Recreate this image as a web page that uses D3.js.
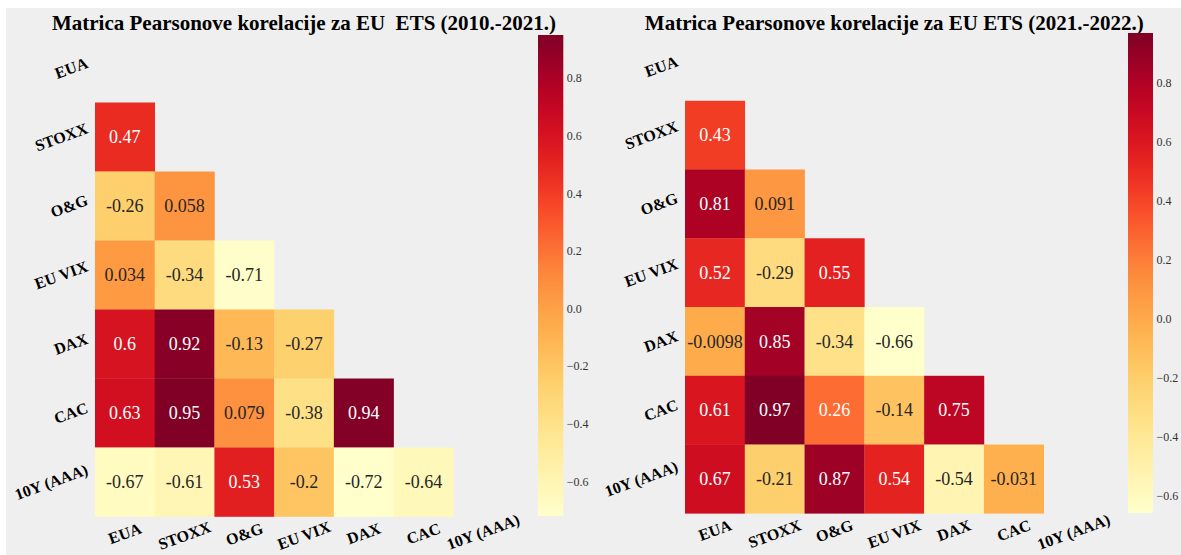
<!DOCTYPE html>
<html>
<head>
<meta charset="utf-8">
<script src="https://cdn.jsdelivr.net/npm/d3@7"></script>
<style>
  body { margin: 0; background: #fff; }
  svg { display: block; }
</style>
</head>
<body>
<svg id="chart" width="1181" height="555"></svg>
<script>
// variable names, same order on both axes
var labels = ["EUA", "STOXX", "O&G", "EU VIX", "DAX", "CAC", "10Y (AAA)"];

// lower triangle of the correlation matrix, row i holds columns 0..i-1
var corr2010 = [
    [],
    [0.47],
    [-0.26, 0.058],
    [0.034, -0.34, -0.71],
    [0.6, 0.92, -0.13, -0.27],
    [0.63, 0.95, 0.079, -0.38, 0.94],
    [-0.67, -0.61, 0.53, -0.2, -0.72, -0.64]
];

var corr2021 = [
    [],
    [0.43],
    [0.81, 0.091],
    [0.52, -0.29, 0.55],
    [-0.0098, 0.85, -0.34, -0.66],
    [0.61, 0.97, 0.26, -0.14, 0.75],
    [0.67, -0.21, 0.87, 0.54, -0.54, -0.031]
];

var cbTicks = [-0.6, -0.4, -0.2, 0.0, 0.2, 0.4, 0.6, 0.8];

var titles = [
    "Matrica Pearsonove korelacije za EU\u00a0\u00a0ETS (2010.-2021.)",
    "Matrica Pearsonove korelacije za EU ETS (2021.-2022.)"
];

var svg = d3.select("#chart");
var serif = "'Liberation Serif', 'Times New Roman', serif";
var angle = 20 * Math.PI / 180;

// panel background
svg.append("rect")
    .attr("x", 6).attr("y", 8)
    .attr("width", 1181 - 6).attr("height", 555 - 8)
    .attr("fill", "#efefef");

var defs = svg.append("defs");

var panels = [
    {data: corr2010, title: titles[0], x0: 95, x1: 513, y0: 33.5, y1: 516.5,
     cbX: 538, cbW: 25.3, cbY0: 35, cbY1: 516},
    {data: corr2021, title: titles[1], x0: 685, x1: 1103.5, y0: 32, y1: 513.3,
     cbX: 1128, cbW: 25, cbY0: 33, cbY1: 513}
];

function luminance(c) {
    var rgb = d3.rgb(c);
    var lin = [rgb.r, rgb.g, rgb.b].map(function (v) {
        v = v / 255;
        return v <= 0.03928 ? v / 12.92 : Math.pow((v + 0.055) / 1.055, 2.4);
    });
    return 0.2126 * lin[0] + 0.7152 * lin[1] + 0.0722 * lin[2];
}

panels.forEach(function (p, k) {
    var cells = [];
    p.data.forEach(function (row, i) {
        row.forEach(function (v, j) {
            cells.push({row: labels[i], col: labels[j], value: v});
        });
    });

    var vmin = d3.min(cells, function (d) { return d.value; }),
        vmax = d3.max(cells, function (d) { return d.value; });

    var x = d3.scaleBand().domain(labels).range([p.x0, p.x1]);
    var y = d3.scaleBand().domain(labels).range([p.y0, p.y1]);
    var color = d3.scaleSequential(d3.interpolateYlOrRd).domain([vmin, vmax]);

    var g = svg.append("g");

    g.selectAll("rect.cell")
        .data(cells)
        .enter().append("rect")
        .attr("class", "cell")
        .attr("x", function (d) { return x(d.col); })
        .attr("y", function (d) { return y(d.row); })
        .attr("width", x.bandwidth() + 0.3)
        .attr("height", y.bandwidth() + 0.3)
        .attr("fill", function (d) { return color(d.value); });

    g.selectAll("text.annot")
        .data(cells)
        .enter().append("text")
        .attr("class", "annot")
        .attr("x", function (d) { return x(d.col) + x.bandwidth() / 2; })
        .attr("y", function (d) { return y(d.row) + y.bandwidth() / 2; })
        .attr("dy", "0.35em")
        .attr("text-anchor", "middle")
        .style("font-family", serif)
        .style("font-size", "18px")
        .attr("fill", function (d) {
            return luminance(color(d.value)) > 0.408 ? "#262626" : "#ffffff";
        })
        .text(function (d) { return String(d.value); });

    // title
    g.append("text")
        .attr("x", (p.x0 + p.x1) / 2)
        .attr("y", 30)
        .attr("text-anchor", "middle")
        .style("font-family", serif)
        .style("font-weight", "bold")
        .style("font-size", "21px")
        .attr("fill", "#000")
        .text(p.title);

    var fs = 16, capH = 0.68 * fs;

    // y tick labels, rotated, right edge against the heatmap
    g.selectAll("text.ylab")
        .data(labels)
        .enter().append("text")
        .attr("class", "ylab")
        .attr("text-anchor", "middle")
        .attr("dy", "0.34em")
        .style("font-family", serif)
        .style("font-weight", "bold")
        .style("font-size", fs + "px")
        .text(function (d) { return d; })
        .attr("transform", function (d) {
            var w = this.getComputedTextLength();
            var bw = w * Math.cos(angle) + capH * Math.sin(angle);
            var cx = p.x0 - 6 - bw / 2;
            var cy = y(d) + y.bandwidth() / 2;
            return "translate(" + cx + "," + cy + ") rotate(-20)";
        });

    // x tick labels, rotated, top edge below the heatmap
    g.selectAll("text.xlab")
        .data(labels)
        .enter().append("text")
        .attr("class", "xlab")
        .attr("text-anchor", "middle")
        .attr("dy", "0.34em")
        .style("font-family", serif)
        .style("font-weight", "bold")
        .style("font-size", fs + "px")
        .text(function (d) { return d; })
        .attr("transform", function (d) {
            var w = this.getComputedTextLength();
            var bh = w * Math.sin(angle) + capH * Math.cos(angle);
            var cx = x(d) + x.bandwidth() / 2;
            var cy = Math.min(p.y1 + 6 + bh / 2, 555 - bh / 2 - 5);
            return "translate(" + cx + "," + cy + ") rotate(-20)";
        });

    // colorbar
    var gradId = "grad" + k;
    var grad = defs.append("linearGradient")
        .attr("id", gradId)
        .attr("x1", 0).attr("y1", 0).attr("x2", 0).attr("y2", 1);
    d3.range(0, 41).forEach(function (i) {
        grad.append("stop")
            .attr("offset", (i / 40 * 100) + "%")
            .attr("stop-color", d3.interpolateYlOrRd(1 - i / 40));
    });

    g.append("rect")
        .attr("x", p.cbX).attr("y", p.cbY0)
        .attr("width", p.cbW).attr("height", p.cbY1 - p.cbY0)
        .attr("fill", "url(#" + gradId + ")");

    var cy = d3.scaleLinear().domain([vmin, vmax]).range([p.cbY1, p.cbY0]);
    var fmt = d3.format(".1f");

    g.selectAll("text.cbtick")
        .data(cbTicks)
        .enter().append("text")
        .attr("class", "cbtick")
        .attr("x", p.cbX + p.cbW + 3.5)
        .attr("y", function (d) { return cy(d); })
        .attr("dy", "0.35em")
        .style("font-family", serif)
        .style("font-size", "12px")
        .attr("fill", "#333")
        .text(function (d) { return fmt(d); });
});
</script>
</body>
</html>
